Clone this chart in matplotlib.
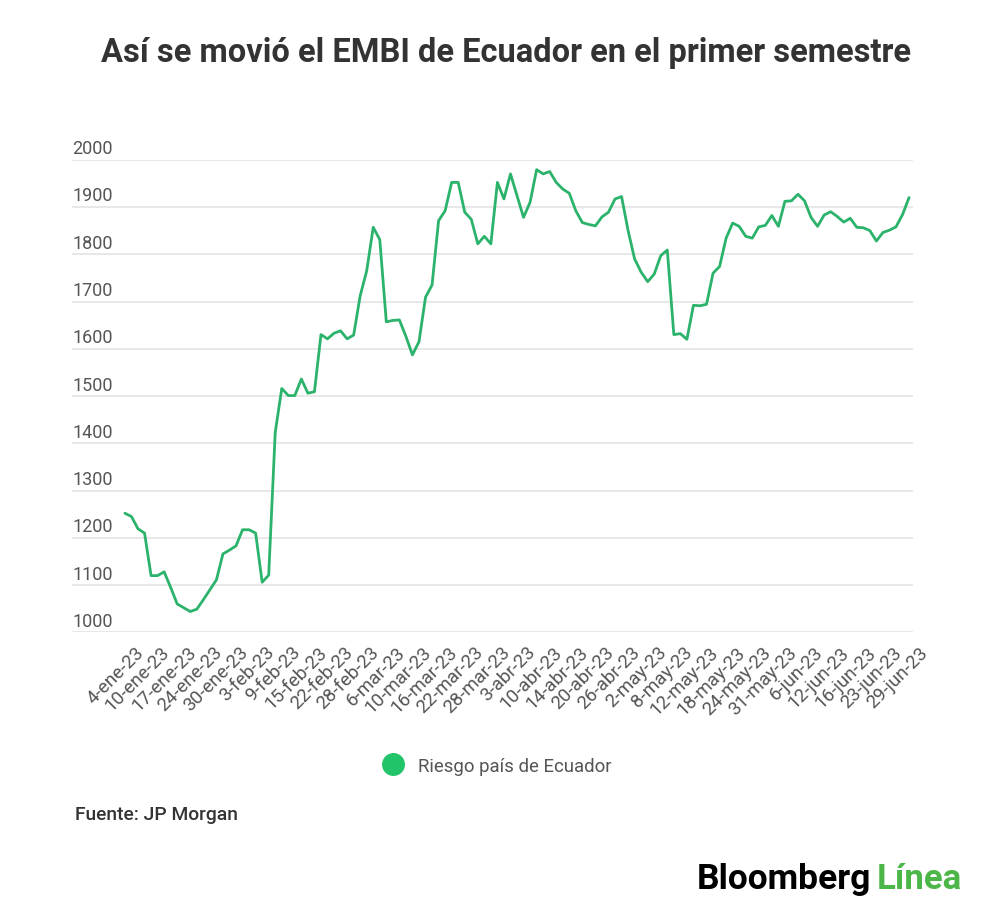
import matplotlib
matplotlib.use("Agg")
import matplotlib.pyplot as plt
import matplotlib.transforms as mtransforms
from matplotlib.lines import Line2D

plt.rcParams['font.family'] = ['Roboto', 'DejaVu Sans']

# EMBI Ecuador, one value per trading day (4-ene-23 .. 29-jun-23)
embi = [1252, 1245, 1219, 1210, 1120, 1120, 1128, 1095, 1060, 1052,
        1044, 1049, 1069, 1090, 1111, 1166, 1174, 1183, 1217, 1217,
        1210, 1106, 1121, 1423, 1516, 1501, 1501, 1536, 1506, 1509,
        1630, 1621, 1633, 1638, 1621, 1629, 1712, 1765, 1857, 1831,
        1657, 1660, 1661, 1626, 1587, 1615, 1709, 1735, 1871, 1892,
        1952, 1952, 1889, 1874, 1822, 1838, 1822, 1952, 1917, 1970,
        1924, 1878, 1910, 1979, 1970, 1975, 1952, 1938, 1929, 1892,
        1867, 1863, 1860, 1879, 1889, 1917, 1922, 1850, 1790, 1762,
        1742, 1758, 1797, 1809, 1630, 1632, 1620, 1692, 1691, 1694,
        1760, 1774, 1834, 1866, 1859, 1838, 1834, 1858, 1861, 1882,
        1859, 1912, 1913, 1927, 1913, 1878, 1859, 1883, 1890, 1880,
        1868, 1876, 1857, 1856, 1850, 1828, 1846, 1851, 1858, 1884,
        1920]

tick_labels = ['4-ene-23', '10-ene-23', '17-ene-23', '24-ene-23', '30-ene-23',
               '3-feb-23', '9-feb-23', '15-feb-23', '22-feb-23', '28-feb-23',
               '6-mar-23', '10-mar-23', '16-mar-23', '22-mar-23', '28-mar-23',
               '3-abr-23', '10-abr-23', '14-abr-23', '20-abr-23', '26-abr-23',
               '2-may-23', '8-may-23', '12-may-23', '18-may-23', '24-may-23',
               '31-may-23', '6-jun-23', '12-jun-23', '16-jun-23', '23-jun-23',
               '29-jun-23']
tick_step = 4
y_ticks = list(range(1000, 2001, 100))

line_color = '#2bb36b'
dot_color = '#22c46a'

fig = plt.figure(figsize=(10, 9.2), dpi=100)
ax = fig.add_axes([0.072, 0.3116, 0.841, 0.5137])

x = list(range(len(embi)))
ax.plot(x, embi, color=line_color, lw=2.0, solid_joinstyle='round',
        solid_capstyle='round', zorder=3)

ax.set_xlim(-8.1, 120.6)
ax.set_ylim(1000, 2000)
ax.set_yticks(y_ticks)
ax.grid(axis='y', color='#e2e2e2', lw=1.1)
ax.set_axisbelow(True)
for s in ax.spines.values():
    s.set_visible(False)

ax.tick_params(axis='y', length=0, pad=0, labelsize=13, labelcolor='#555555')
ax.set_xticks(x[::tick_step])
ax.set_xticklabels(tick_labels, rotation=45, ha='right', va='center',
                   rotation_mode='anchor')
ax.tick_params(axis='x', length=0, pad=12, labelsize=13.5, labelcolor='#555555')

up = mtransforms.ScaledTranslation(0, 2.5 / 100, fig.dpi_scale_trans)
for lab in ax.get_yticklabels():
    lab.set_horizontalalignment('left')
    lab.set_verticalalignment('bottom')
    lab.set_transform(lab.get_transform() + up)

right = mtransforms.ScaledTranslation(16 / 100, 0, fig.dpi_scale_trans)
for lab in ax.get_xticklabels():
    lab.set_transform(lab.get_transform() + right)

fig.text(0.506, 1 - 53 / 920, 'Así se movió el EMBI de Ecuador en el primer semestre',
         ha='center', va='center', fontsize=23.5, weight='bold', color='#333333')

proxy = Line2D([], [], ls='none', marker='o', ms=15.5, color=dot_color,
               label='Riesgo país de Ecuador')
ax.legend(handles=[proxy], loc='center', bbox_to_anchor=(0.493, 1 - 767 / 920),
          bbox_transform=fig.transFigure, frameon=False, fontsize=13.4,
          handletextpad=0.35, labelcolor='#555555')

fig.text(0.075, 1 - 815 / 920, 'Fuente: JP Morgan', ha='left', va='center',
         fontsize=13.9, weight='medium', color='#333333')

logo = fig.text(0.697, 1 - 880 / 920, 'Bloomberg', ha='left', va='center',
                fontsize=25.5, weight='bold', color='black')
ax.annotate('Línea', xy=(1, 0), xycoords=logo, xytext=(4, 0),
            textcoords='offset points', ha='left', va='bottom',
            fontsize=25, weight='bold', color='#4cb748')

fig.savefig('out.png', dpi=100, facecolor='white')
